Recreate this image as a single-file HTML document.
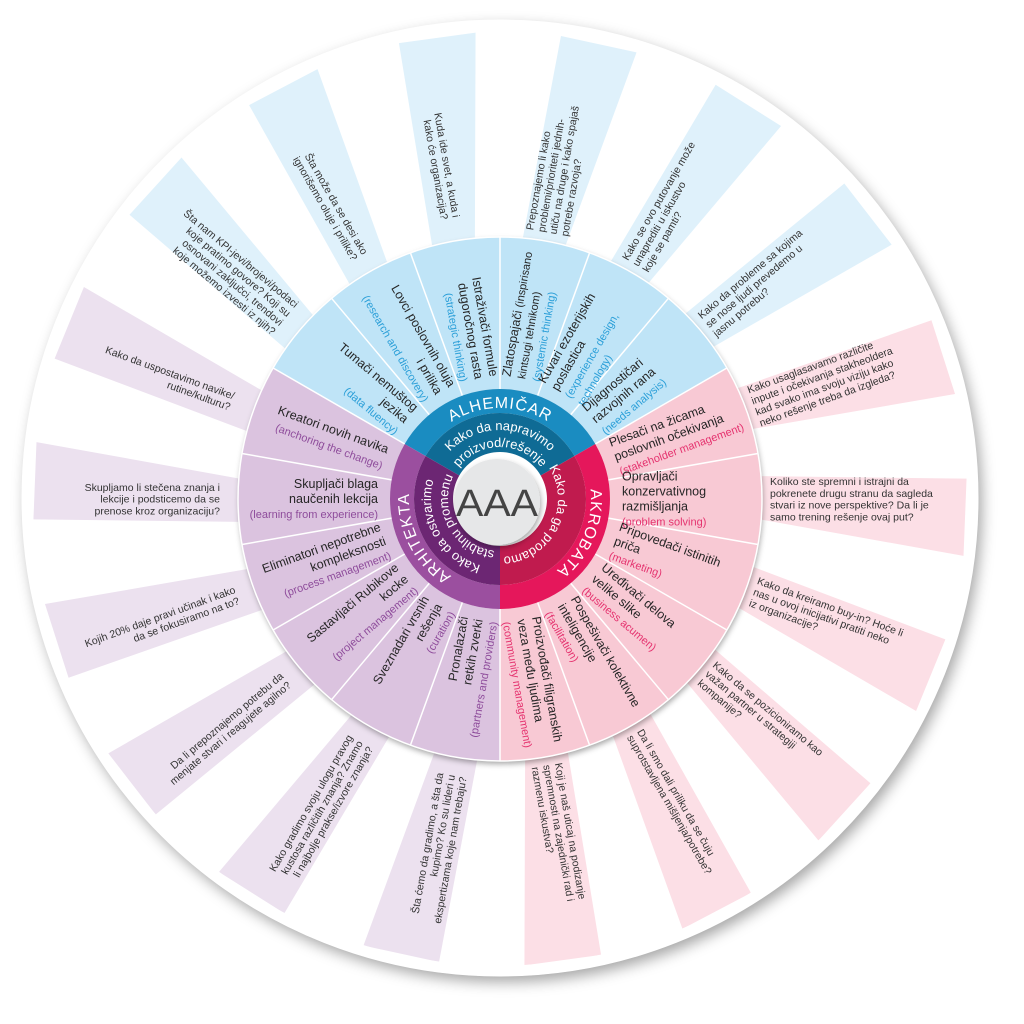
<!DOCTYPE html>
<html><head><meta charset="utf-8"><style>
html,body{margin:0;padding:0;background:#fff;}
svg{display:block;font-family:"Liberation Sans",sans-serif;}
.q{font-size:10.5px;fill:#333;}
.l{font-size:12.5px;fill:#252525;}
.sb{font-size:11px;fill:#2b9fd8;}
.sr{font-size:11px;fill:#e5336f;}
.sp{font-size:11px;fill:#8e4c9b;}
.arc1{font-size:16px;fill:#fff;letter-spacing:1px;}
.arc2{font-size:13px;fill:#fff;}
</style></head><body>
<svg width="1024" height="1024" viewBox="0 0 1024 1024" xmlns="http://www.w3.org/2000/svg">
<defs>
<filter id="sh" x="-10%" y="-10%" width="120%" height="120%"><feDropShadow dx="4" dy="6" stdDeviation="7" flood-color="#000" flood-opacity="0.35"/></filter>
<filter id="sh2" x="-30%" y="-30%" width="160%" height="160%"><feDropShadow dx="1" dy="3" stdDeviation="3" flood-color="#000" flood-opacity="0.35"/></filter>
<path id="seg" d="M500 237 A262 262 0 0 1 589.61 252.80 L537.62 395.63 A110 110 0 0 0 500 389 Z"/>
<polygon id="strip" points="522.84,238.00 560.96,36.00 636.54,52.41 565.60,245.34"/>
<path id="bo" d="M404.74 444 A110 110 0 0 1 595.26 444 L574.48 456 A86 86 0 0 0 425.52 456 Z"/>
<path id="bi" d="M425.52 456 A86 86 0 0 1 574.48 456 L540.70 475.5 A47 47 0 0 0 459.30 475.5 Z"/>
<path id="p91" d="M410.38 483.2 A91 91 0 0 1 589.62 483.2"/>
<path id="p69" d="M432.05 487.02 A69 69 0 0 1 567.95 487.02"/>
<path id="p52" d="M448.79 489.97 A52 52 0 0 1 551.21 489.97"/>
<path id="p58" d="M442.88 488.93 A58 58 0 0 1 557.12 488.93"/>
</defs>

<circle cx="500" cy="498" r="478" fill="#fff" filter="url(#sh)"/>

<g fill="#dff1fb">
<use href="#strip" transform="rotate(-60 500 499)"/><use href="#strip" transform="rotate(-40 500 499)"/><use href="#strip" transform="rotate(-20 500 499)"/>
<use href="#strip" transform="rotate(0 500 499)"/><use href="#strip" transform="rotate(20 500 499)"/><use href="#strip" transform="rotate(40 500 499)"/>
</g>
<g fill="#fcdfe6">
<use href="#strip" transform="rotate(60 500 499)"/><use href="#strip" transform="rotate(80 500 499)"/><use href="#strip" transform="rotate(100 500 499)"/>
<use href="#strip" transform="rotate(120 500 499)"/><use href="#strip" transform="rotate(140 500 499)"/><use href="#strip" transform="rotate(160 500 499)"/>
</g>
<g fill="#ece1ef">
<use href="#strip" transform="rotate(180 500 499)"/><use href="#strip" transform="rotate(200 500 499)"/><use href="#strip" transform="rotate(220 500 499)"/>
<use href="#strip" transform="rotate(240 500 499)"/><use href="#strip" transform="rotate(260 500 499)"/><use href="#strip" transform="rotate(280 500 499)"/>
</g>
<circle cx="500" cy="498" r="473" fill="none" stroke="#fff" stroke-width="11"/>

<g filter="url(#sh2)">
<g fill="#bfe4f7">
<use href="#seg" transform="rotate(-60 500 499)"/><use href="#seg" transform="rotate(-40 500 499)"/><use href="#seg" transform="rotate(-20 500 499)"/>
<use href="#seg" transform="rotate(0 500 499)"/><use href="#seg" transform="rotate(20 500 499)"/><use href="#seg" transform="rotate(40 500 499)"/>
</g>
<g fill="#f8c9d4">
<use href="#seg" transform="rotate(60 500 499)"/><use href="#seg" transform="rotate(80 500 499)"/><use href="#seg" transform="rotate(100 500 499)"/>
<use href="#seg" transform="rotate(120 500 499)"/><use href="#seg" transform="rotate(140 500 499)"/><use href="#seg" transform="rotate(160 500 499)"/>
</g>
<g fill="#dbc3df">
<use href="#seg" transform="rotate(180 500 499)"/><use href="#seg" transform="rotate(200 500 499)"/><use href="#seg" transform="rotate(220 500 499)"/>
<use href="#seg" transform="rotate(240 500 499)"/><use href="#seg" transform="rotate(260 500 499)"/><use href="#seg" transform="rotate(280 500 499)"/>
</g>
</g>
<g stroke="#fff" stroke-width="1.5">
<line x1="500" y1="389" x2="500" y2="237" transform="rotate(0 500 499)"/><line x1="500" y1="389" x2="500" y2="237" transform="rotate(20 500 499)"/>
<line x1="500" y1="389" x2="500" y2="237" transform="rotate(40 500 499)"/><line x1="500" y1="389" x2="500" y2="237" transform="rotate(60 500 499)"/>
<line x1="500" y1="389" x2="500" y2="237" transform="rotate(80 500 499)"/><line x1="500" y1="389" x2="500" y2="237" transform="rotate(100 500 499)"/>
<line x1="500" y1="389" x2="500" y2="237" transform="rotate(120 500 499)"/><line x1="500" y1="389" x2="500" y2="237" transform="rotate(140 500 499)"/>
<line x1="500" y1="389" x2="500" y2="237" transform="rotate(160 500 499)"/><line x1="500" y1="389" x2="500" y2="237" transform="rotate(180 500 499)"/>
<line x1="500" y1="389" x2="500" y2="237" transform="rotate(200 500 499)"/><line x1="500" y1="389" x2="500" y2="237" transform="rotate(220 500 499)"/>
<line x1="500" y1="389" x2="500" y2="237" transform="rotate(240 500 499)"/><line x1="500" y1="389" x2="500" y2="237" transform="rotate(260 500 499)"/>
<line x1="500" y1="389" x2="500" y2="237" transform="rotate(280 500 499)"/><line x1="500" y1="389" x2="500" y2="237" transform="rotate(300 500 499)"/>
<line x1="500" y1="389" x2="500" y2="237" transform="rotate(320 500 499)"/><line x1="500" y1="389" x2="500" y2="237" transform="rotate(340 500 499)"/>
</g>
<circle cx="500" cy="499" r="262" fill="none" stroke="#fff" stroke-width="1.5"/>

<use href="#bo" fill="#1a8cc1"/><use href="#bi" fill="#0f6b95"/>
<use href="#bo" fill="#e5175b" transform="rotate(120 500 499)"/><use href="#bi" fill="#c01b4e" transform="rotate(120 500 499)"/>
<use href="#bo" fill="#9b4f9f" transform="rotate(240 500 499)"/><use href="#bi" fill="#6c2673" transform="rotate(240 500 499)"/>

<text class="arc1"><textPath href="#p91" startOffset="50%" text-anchor="middle">ALHEMIČAR</textPath></text>
<text class="arc2"><textPath href="#p69" startOffset="50%" text-anchor="middle">Kako da napravimo</textPath></text>
<text class="arc2"><textPath href="#p52" startOffset="50%" text-anchor="middle">proizvod/rešenje</textPath></text>
<g transform="rotate(113 500 499)"><text class="arc1"><textPath href="#p91" startOffset="50%" text-anchor="middle">AKROBATA</textPath></text></g>
<g transform="rotate(117 500 499)"><text class="arc2"><textPath href="#p58" startOffset="50%" text-anchor="middle">Kako da ga prodamo</textPath></text></g>
<g transform="rotate(243 500 499)"><text class="arc1"><textPath href="#p91" startOffset="50%" text-anchor="middle">ARHITEKTA</textPath></text></g>
<g transform="rotate(241 500 499)"><text class="arc2"><textPath href="#p69" startOffset="50%" text-anchor="middle">Kako da ostvarimo</textPath></text>
<text class="arc2"><textPath href="#p52" startOffset="50%" text-anchor="middle">stabilnu promenu</textPath></text></g>

<circle cx="497" cy="502" r="43" fill="#e6e7e8" filter="url(#sh2)"/>
<text x="497" y="516" text-anchor="middle" font-size="38" fill="#444" textLength="82" lengthAdjust="spacingAndGlyphs">AAA</text>

<g transform="rotate(-50 500 499) translate(500 499) rotate(90)"><text class="l" text-anchor="end"><tspan x="-122" y="-11">Tumači nemuštog</tspan><tspan x="-122" y="4">jezika</tspan><tspan x="-122" y="19" class="sb">(data fluency)</tspan></text></g>
<g transform="rotate(-30 500 499) translate(500 499) rotate(90)"><text class="l" text-anchor="end"><tspan x="-122" y="-11">Lovci poslovnih oluja</tspan><tspan x="-122" y="4">i prilika</tspan><tspan x="-122" y="19" class="sb">(research and discovery)</tspan></text></g>
<g transform="rotate(-10 500 499) translate(500 499) rotate(90)"><text class="l" text-anchor="end"><tspan x="-122" y="-11">Istraživači formule</tspan><tspan x="-122" y="4">dugoročnog rasta</tspan><tspan x="-122" y="19" class="sb">(strategic thinking)</tspan></text></g>
<g transform="rotate(10 500 499) translate(500 499) rotate(-90)"><text class="l"><tspan x="122" y="-11">Zlatospajači <tspan font-size="11">(inspirisano</tspan></tspan><tspan x="122" y="4" font-size="11">kintsugi tehnikom)</tspan><tspan x="122" y="19" class="sb">(systemic thinking)</tspan></text></g>
<g transform="rotate(30 500 499) translate(500 499) rotate(-90)"><text class="l"><tspan x="122" y="-18.5">Kuvari ezoterijskih</tspan><tspan x="122" y="-3.5">poslastica</tspan><tspan x="122" y="11.5" class="sb">(experience design,</tspan><tspan x="122" y="26.5" class="sb">technology)</tspan></text></g>
<g transform="rotate(50 500 499) translate(500 499) rotate(-90)"><text class="l"><tspan x="122" y="-11">Dijagnostičari</tspan><tspan x="122" y="4">razvojnih rana</tspan><tspan x="122" y="19" class="sb">(needs analysis)</tspan></text></g>

<g transform="rotate(70 500 499) translate(500 499) rotate(-90)"><text class="l"><tspan x="122" y="-11">Plesači na žicama</tspan><tspan x="122" y="4">poslovnih očekivanja</tspan><tspan x="122" y="19" class="sr">(stakeholder management)</tspan></text></g>
<g transform="rotate(90 500 499) translate(500 499) rotate(-90)"><text class="l"><tspan x="122" y="-18.5">Opravljači</tspan><tspan x="122" y="-3.5">konzervativnog</tspan><tspan x="122" y="11.5">razmišljanja</tspan><tspan x="122" y="26.5" class="sr">(problem solving)</tspan></text></g>
<g transform="rotate(110 500 499) translate(500 499) rotate(-90)"><text class="l"><tspan x="122" y="-11">Pripovedači istinitih</tspan><tspan x="122" y="4">priča</tspan><tspan x="122" y="19" class="sr">(marketing)</tspan></text></g>
<g transform="rotate(130 500 499) translate(500 499) rotate(-90)"><text class="l"><tspan x="122" y="-11">Uređivači delova</tspan><tspan x="122" y="4">velike slike</tspan><tspan x="122" y="19" class="sr">(business acumen)</tspan></text></g>
<g transform="rotate(150 500 499) translate(500 499) rotate(-90)"><text class="l"><tspan x="122" y="-11">Pospešivači kolektivne</tspan><tspan x="122" y="4">inteligencije</tspan><tspan x="122" y="19" class="sr">(facilitation)</tspan></text></g>
<g transform="rotate(170 500 499) translate(500 499) rotate(-90)"><text class="l"><tspan x="122" y="-11">Proizvođači filigranskih</tspan><tspan x="122" y="4">veza među ljudima</tspan><tspan x="122" y="19" class="sr">(community management)</tspan></text></g>

<g transform="rotate(190 500 499) translate(500 499) rotate(90)"><text class="l" text-anchor="end"><tspan x="-122" y="-11">Pronalazači</tspan><tspan x="-122" y="4">retkih zverki</tspan><tspan x="-122" y="19" class="sp">(partners and providers)</tspan></text></g>
<g transform="rotate(210 500 499) translate(500 499) rotate(90)"><text class="l" text-anchor="end"><tspan x="-122" y="-11">Sveznadari vrsnih</tspan><tspan x="-122" y="4">rešenja</tspan><tspan x="-122" y="19" class="sp">(curation)</tspan></text></g>
<g transform="rotate(230 500 499) translate(500 499) rotate(90)"><text class="l" text-anchor="end"><tspan x="-122" y="-11">Sastavljači Rubikove</tspan><tspan x="-122" y="4">kocke</tspan><tspan x="-122" y="19" class="sp">(project management)</tspan></text></g>
<g transform="rotate(250 500 499) translate(500 499) rotate(90)"><text class="l" text-anchor="end"><tspan x="-122" y="-11">Eliminatori nepotrebne</tspan><tspan x="-122" y="4">kompleksnosti</tspan><tspan x="-122" y="19" class="sp">(process management)</tspan></text></g>
<g transform="rotate(270 500 499) translate(500 499) rotate(90)"><text class="l" text-anchor="end"><tspan x="-122" y="-11">Skupljači blaga</tspan><tspan x="-122" y="4">naučenih lekcija</tspan><tspan x="-122" y="19" class="sp">(learning from experience)</tspan></text></g>
<g transform="rotate(290 500 499) translate(500 499) rotate(90)"><text class="l" text-anchor="end"><tspan x="-122" y="-4">Kreatori novih navika</tspan><tspan x="-122" y="13" class="sp">(anchoring the change)</tspan></text></g>

<g transform="rotate(-50 500 499) translate(500 499) rotate(90)"><text class="q" text-anchor="end"><tspan x="-280" y="-14">Šta nam KPI-jevi/brojevi/podaci</tspan><tspan x="-280" y="-2.2">koje pratimo govore? Koji su</tspan><tspan x="-280" y="9.6">osnovani zaključci, trendovi</tspan><tspan x="-280" y="21.4">koje možemo izvesti iz njih?</tspan></text></g>
<g transform="rotate(-30 500 499) translate(500 499) rotate(90)"><text class="q" text-anchor="end"><tspan x="-280" y="-2.2">Šta može da se desi ako</tspan><tspan x="-280" y="9.6">ignorišemo oluje i prilike?</tspan></text></g>
<g transform="rotate(-10 500 499) translate(500 499) rotate(90)"><text class="q" text-anchor="end"><tspan x="-285" y="-2.2">Kuda ide svet, a kuda i</tspan><tspan x="-285" y="9.6">kako će organizacija?</tspan></text></g>
<g transform="rotate(10 500 499) translate(500 499) rotate(-90)"><text class="q"><tspan x="270" y="-14">Prepoznajemo li kako</tspan><tspan x="270" y="-2.2">problemi/prioriteti jednih-</tspan><tspan x="270" y="9.6">utiču na druge i kako spajaš</tspan><tspan x="270" y="21.4">potrebe razvoja?</tspan></text></g>
<g transform="rotate(30 500 499) translate(500 499) rotate(-90)"><text class="q"><tspan x="270" y="-8.1">Kako se ovo putovanje može</tspan><tspan x="270" y="3.7">unaprediti u iskustvo</tspan><tspan x="270" y="15.5">koje se pamti?</tspan></text></g>
<g transform="rotate(50 500 499) translate(500 499) rotate(-90)"><text class="q"><tspan x="270" y="-8.1">Kako da probleme sa kojima</tspan><tspan x="270" y="3.7">se nose ljudi prevedemo u</tspan><tspan x="270" y="15.5">jasnu potrebu?</tspan></text></g>

<g transform="rotate(70 500 499) translate(500 499) rotate(-90)"><text class="q"><tspan x="270" y="-14">Kako usaglasavamo različite</tspan><tspan x="270" y="-2.2">inpute i očekivanja stakheoldera</tspan><tspan x="270" y="9.6">kad svako ima svoju viziju kako</tspan><tspan x="270" y="21.4">neko rešenje treba da izgleda?</tspan></text></g>
<g transform="rotate(90 500 499) translate(500 499) rotate(-90)"><text class="q"><tspan x="270" y="-14">Koliko ste spremni i istrajni da</tspan><tspan x="270" y="-2.2">pokrenete drugu stranu da sagleda</tspan><tspan x="270" y="9.6">stvari iz nove perspektive? Da li je</tspan><tspan x="270" y="21.4">samo trening rešenje ovaj put?</tspan></text></g>
<g transform="rotate(110 500 499) translate(500 499) rotate(-90)"><text class="q"><tspan x="270" y="-8.1">Kako da kreiramo buy-in? Hoće li</tspan><tspan x="270" y="3.7">nas u ovoj inicijativi pratiti neko</tspan><tspan x="270" y="15.5">iz organizacije?</tspan></text></g>
<g transform="rotate(130 500 499) translate(500 499) rotate(-90)"><text class="q"><tspan x="270" y="-8.1">Kako da se pozicioniramo kao</tspan><tspan x="270" y="3.7">važan partner u strategiji</tspan><tspan x="270" y="15.5">kompanije?</tspan></text></g>
<g transform="rotate(150 500 499) translate(500 499) rotate(-90)"><text class="q"><tspan x="270" y="-2.2">Da li smo dali priliku da se čuju</tspan><tspan x="270" y="9.6">suprotstavljena mišljenja/potrebe?</tspan></text></g>
<g transform="rotate(170 500 499) translate(500 499) rotate(-90)"><text class="q"><tspan x="270" y="-8.1">Koji je naš uticaj na podizanje</tspan><tspan x="270" y="3.7">spremnosti na zajednički rad i</tspan><tspan x="270" y="15.5">razmenu iskustva?</tspan></text></g>

<g transform="rotate(190 500 499) translate(500 499) rotate(90)"><text class="q" text-anchor="end"><tspan x="-280" y="-8.1">Šta ćemo da gradimo, a šta da</tspan><tspan x="-280" y="3.7">kupimo? Ko su lideri u</tspan><tspan x="-280" y="15.5">ekspertizama koje nam trebaju?</tspan></text></g>
<g transform="rotate(210 500 499) translate(500 499) rotate(90)"><text class="q" text-anchor="end"><tspan x="-280" y="-8.1">Kako gradimo svoju ulogu pravog</tspan><tspan x="-280" y="3.7">kustosa različitih znanja? Znamo</tspan><tspan x="-280" y="15.5">li najbolje prakse/izvore znanja?</tspan></text></g>
<g transform="rotate(230 500 499) translate(500 499) rotate(90)"><text class="q" text-anchor="end"><tspan x="-280" y="-2.2">Da li prepoznajemo potrebu da</tspan><tspan x="-280" y="9.6">menjate stvari i reagujete agilno?</tspan></text></g>
<g transform="rotate(250 500 499) translate(500 499) rotate(90)"><text class="q" text-anchor="end"><tspan x="-280" y="-2.2">Kojih 20% daje pravi učinak i kako</tspan><tspan x="-280" y="9.6">da se fokusiramo na to?</tspan></text></g>
<g transform="rotate(270 500 499) translate(500 499) rotate(90)"><text class="q" text-anchor="end"><tspan x="-280" y="-8.1">Skupljamo li stečena znanja i</tspan><tspan x="-280" y="3.7">lekcije i podsticemo da se</tspan><tspan x="-280" y="15.5">prenose kroz organizaciju?</tspan></text></g>
<g transform="rotate(290 500 499) translate(500 499) rotate(90)"><text class="q" text-anchor="end"><tspan x="-285" y="-2.2">Kako da uspostavimo navike/</tspan><tspan x="-285" y="9.6">rutine/kulturu?</tspan></text></g>
</svg>
</body></html>
